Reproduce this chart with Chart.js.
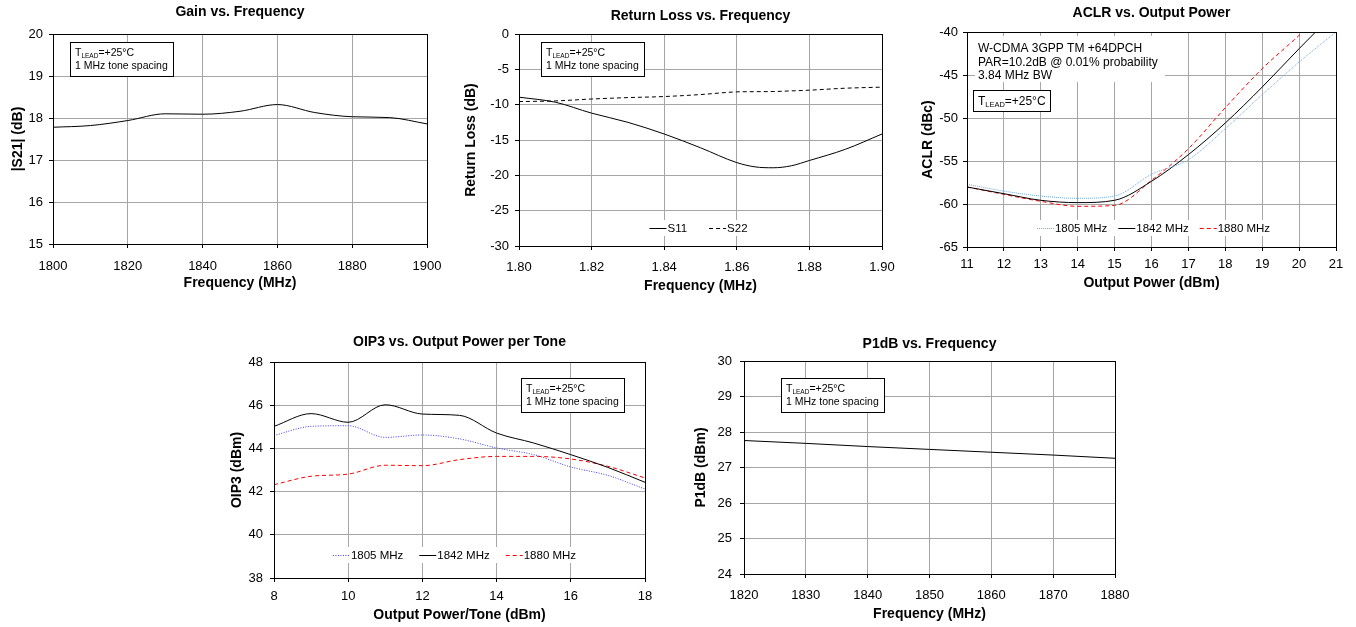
<!DOCTYPE html>
<html>
<head>
<meta charset="utf-8">
<script src="https://cdn.jsdelivr.net/npm/chart.js@4/dist/chart.umd.min.js"></script>
<style>
body { margin: 0; background: #fff; width: 1356px; height: 627px; position: relative; overflow: hidden; }
canvas { position: absolute; }
</style>
</head>
<body>
<canvas id="gain"></canvas>
<canvas id="rl"></canvas>
<canvas id="aclr"></canvas>
<canvas id="oip3"></canvas>
<canvas id="p1db"></canvas>
<script>
// gain vs frequency
const gainFreq = [1800, 1810, 1820, 1830, 1840, 1850, 1860, 1870, 1880, 1890, 1900];
const gainS21 = [17.78, 17.82, 17.94, 18.10, 18.09, 18.16, 18.32, 18.13, 18.03, 18.01, 17.86];

// return loss vs frequency
const rlFreq = [1.80, 1.81, 1.82, 1.83, 1.84, 1.85, 1.86, 1.865, 1.87, 1.875, 1.88, 1.89, 1.90];
const rlS11 = [-8.94, -9.65, -11.2, -12.5, -14.15, -16.1, -18.2, -18.8, -18.93, -18.65, -17.9, -16.3, -14.15];
const rlS22 = [-9.56, -9.47, -9.2, -9.0, -8.85, -8.57, -8.19, -8.16, -8.14, -8.05, -7.95, -7.67, -7.52];

// ACLR vs output power
const aclrPout = [11, 12, 13, 14, 15, 16, 17, 18, 19, 20, 21];
const aclr1805 = [-57.7, -58.5, -59.07, -59.34, -59.07, -56.55, -54.84, -51.24, -47.29, -43.49, -40.0];
const aclr1842 = [-58.02, -58.8, -59.57, -59.84, -59.57, -57.36, -54.26, -50.58, -46.4, -41.94, -37.6];
const aclr1880 = [-58.02, -58.88, -59.69, -60.27, -60.16, -57.25, -53.57, -48.8, -44.26, -40.39, -36.3];

// OIP3 vs output power per tone
const oip3Pout = [8, 9, 10, 11, 12, 13, 14, 15, 16, 17, 18];
const oip3_1805 = [44.6, 45.02, 45.05, 44.51, 44.62, 44.44, 44.02, 43.71, 43.14, 42.75, 42.12];
const oip3_1842 = [45.02, 45.61, 45.21, 46.02, 45.59, 45.53, 44.71, 44.25, 43.71, 43.12, 42.43];
const oip3_1880 = [42.32, 42.71, 42.81, 43.22, 43.2, 43.48, 43.63, 43.63, 43.51, 43.17, 42.63];

// P1dB vs frequency
const p1dbFreq = [1820, 1830, 1840, 1850, 1860, 1870, 1880];
const p1dbVal = [27.76, 27.68, 27.59, 27.51, 27.43, 27.35, 27.26];

const FONT = "'Liberation Sans', Arial, Helvetica, sans-serif";
Chart.defaults.font.family = FONT;
Chart.defaults.color = '#000';

const tLead = [['T'], ['LEAD', true], ['=+25°C']];
const spacing = [['1 MHz tone spacing']];

function pts(xs, ys) {
    return xs.map((x, i) => ({ x: x, y: ys[i] }));
}

function line(label, xs, ys, color, dash, width) {
    return {
        label: label,
        data: pts(xs, ys),
        showLine: true,
        borderColor: color,
        borderWidth: width || 1,
        borderDash: dash || [],
        pointRadius: 0,
        cubicInterpolationMode: 'monotone',
        fill: false
    };
}

// frame, notes and in-plot legend
const frame = {
    id: 'frame',
    afterDatasetsDraw(chart, args, opts) {
        const ctx = chart.ctx;
        const a = chart.chartArea;
        ctx.save();
        (opts.notes || []).forEach(n => {
            const x = a.left + n.x, y = a.top + n.y;
            ctx.fillStyle = '#fff';
            ctx.fillRect(x, y, n.w, n.h);
            if (n.border) {
                ctx.strokeStyle = '#000';
                ctx.lineWidth = 1;
                ctx.strokeRect(Math.round(x) + 0.5, Math.round(y) + 0.5, n.w, n.h);
            }
            ctx.fillStyle = '#000';
            ctx.textBaseline = 'alphabetic';
            ctx.textAlign = 'left';
            n.lines.forEach((ln, i) => {
                let cx = x + n.pad;
                const by = y + n.base + i * n.lh;
                ln.forEach(seg => {
                    const sz = seg[1] ? n.size * 0.62 : n.size;
                    ctx.font = sz + 'px ' + FONT;
                    ctx.fillText(seg[0], cx, by + (seg[1] ? n.size * 0.18 : 0));
                    cx += ctx.measureText(seg[0]).width;
                });
            });
        });

        const lg = opts.legend;
        if (lg) {
            ctx.font = lg.size + 'px ' + FONT;
            const items = chart.data.datasets.map(d => ({ d: d, w: ctx.measureText(d.label).width }));
            let total = 0;
            items.forEach((it, i) => { total += lg.sample + 1 + it.w + (i ? lg.gap : 0); });
            let x = (a.left + a.right) / 2 + lg.dx - total / 2;
            const y = a.top + lg.y;
            ctx.fillStyle = '#fff';
            ctx.fillRect(x - 3, y - 8, total + 6, 16);
            items.forEach((it, i) => {
                if (i) x += lg.gap;
                ctx.beginPath();
                ctx.strokeStyle = it.d.borderColor;
                ctx.lineWidth = it.d.borderWidth;
                ctx.setLineDash(it.d.borderDash);
                ctx.moveTo(x, Math.round(y) + 0.5);
                ctx.lineTo(x + lg.sample, Math.round(y) + 0.5);
                ctx.stroke();
                ctx.setLineDash([]);
                x += lg.sample + 1;
                ctx.fillStyle = '#000';
                ctx.textBaseline = 'middle';
                ctx.fillText(it.d.label, x, y + 1);
                x += it.w;
            });
        }

        ctx.strokeStyle = '#000';
        ctx.lineWidth = 1;
        ctx.strokeRect(Math.round(a.left) + 0.5, Math.round(a.top) + 0.5,
            Math.round(a.right - a.left), Math.round(a.bottom - a.top));
        ctx.restore();
    }
};

function makeChart(id, L, datasets) {
    const cv = document.getElementById(id);
    const b = L.box, p = L.plot;
    cv.width = b.w;
    cv.height = b.h;
    cv.style.left = b.x + 'px';
    cv.style.top = b.y + 'px';
    const tTop = L.titleY - b.y - 8.4;
    const gridOpts = { color: '#a6a6a6', lineWidth: 1, tickColor: '#000', tickLength: 4 };
    return new Chart(cv, {
        type: 'scatter',
        data: { datasets: datasets },
        options: {
            responsive: false,
            animation: false,
            layout: { padding: { left: 0, top: 0, bottom: 0, right: b.x + b.w - p.r } },
            plugins: {
                legend: { display: false },
                tooltip: { enabled: false },
                title: {
                    display: true,
                    text: L.title,
                    fullSize: false,
                    color: '#000',
                    font: { size: 14, weight: 'bold', lineHeight: 1.2 },
                    padding: { top: tTop, bottom: p.t - b.y - tTop - 16.8 }
                },
                frame: { notes: L.notes, legend: L.legend }
            },
            scales: {
                x: {
                    type: 'linear',
                    min: L.x.min, max: L.x.max,
                    ticks: {
                        stepSize: L.x.step, autoSkip: false, maxRotation: 0,
                        padding: L.xLabelY - p.b - 11.8,
                        font: { size: 13 },
                        callback: v => L.x.dec ? v.toFixed(L.x.dec) : v
                    },
                    grid: gridOpts,
                    border: { color: '#000' },
                    title: {
                        display: true, text: L.x.title, color: '#000',
                        font: { size: 14, weight: 'bold', lineHeight: 1.2 },
                        padding: { top: 0, bottom: b.y + b.h - L.xTitleY - 8.4 }
                    },
                    afterFit(s) { s.height = b.y + b.h - p.b; }
                },
                y: {
                    min: L.y.min, max: L.y.max,
                    ticks: {
                        stepSize: L.y.step, autoSkip: false,
                        padding: p.l - L.yLabelRight - 4,
                        font: { size: 13 }
                    },
                    grid: gridOpts,
                    border: { color: '#000' },
                    title: {
                        display: true, text: L.y.title, color: '#000',
                        font: { size: 14, weight: 'bold', lineHeight: 1.2 },
                        padding: { top: L.yTitleX - b.x - 8.4, bottom: 0 }
                    },
                    afterFit(s) { s.width = p.l - b.x; }
                }
            }
        },
        plugins: [frame]
    });
}

function smallNote(x, y) {
    return { x: x, y: y, w: 103, h: 34, border: true, pad: 5, size: 10.5, base: 13.8, lh: 13, lines: [tLead, spacing] };
}

makeChart('gain', {
    box: { x: 0, y: 0, w: 455, h: 300 },
    plot: { l: 53, t: 34, r: 427, b: 244 },
    title: 'Gain vs. Frequency', titleY: 12,
    yTitleX: 18, yLabelRight: 43, xLabelY: 266, xTitleY: 283,
    x: { min: 1800, max: 1900, step: 20, title: 'Frequency (MHz)' },
    y: { min: 15, max: 20, step: 1, title: '|S21| (dB)' },
    notes: [smallNote(17, 8)]
}, [line('S21', gainFreq, gainS21, '#000')]);

makeChart('rl', {
    box: { x: 455, y: 0, w: 450, h: 300 },
    plot: { l: 519, t: 34, r: 882, b: 246 },
    title: 'Return Loss vs. Frequency', titleY: 16,
    yTitleX: 471, yLabelRight: 509, xLabelY: 267, xTitleY: 286,
    x: { min: 1.8, max: 1.9, step: 0.02, dec: 2, title: 'Frequency (MHz)' },
    y: { min: -30, max: 0, step: 5, title: 'Return Loss (dB)' },
    notes: [smallNote(22, 8)],
    legend: { y: 194, dx: -2, sample: 17, gap: 22, size: 11.5 }
}, [
    line('S11', rlFreq, rlS11, '#000'),
    line('S22', rlFreq, rlS22, '#000', [4, 3])
]);

makeChart('aclr', {
    box: { x: 905, y: 0, w: 451, h: 300 },
    plot: { l: 967, t: 32, r: 1336, b: 247 },
    title: 'ACLR vs. Output Power', titleY: 13,
    yTitleX: 928, yLabelRight: 958, xLabelY: 264, xTitleY: 283,
    x: { min: 11, max: 21, step: 1, title: 'Output Power (dBm)' },
    y: { min: -65, max: -40, step: 5, title: 'ACLR (dBc)' },
    notes: [
        { x: 8, y: 4, w: 190, h: 46, border: false, pad: 3, size: 12, base: 16.3, lh: 13.5,
          lines: [[['W-CDMA 3GPP TM +64DPCH']], [['PAR=10.2dB @ 0.01% probability']], [['3.84 MHz BW']]] },
        { x: 6, y: 58, w: 77, h: 21, border: true, pad: 5, size: 12, base: 14.7, lh: 13, lines: [tLead] }
    ],
    legend: { y: 196, dx: 2, sample: 17, gap: 11, size: 11.5 }
}, [
    line('1805 MHz', aclrPout, aclr1805, '#6fa8dc', [1, 1]),
    line('1842 MHz', aclrPout, aclr1842, '#000'),
    line('1880 MHz', aclrPout, aclr1880, '#ff0000', [4, 3])
]);

makeChart('oip3', {
    box: { x: 225, y: 320, w: 440, h: 307 },
    plot: { l: 274, t: 362, r: 645, b: 578 },
    title: 'OIP3 vs. Output Power per Tone', titleY: 342,
    yTitleX: 237, yLabelRight: 263, xLabelY: 596, xTitleY: 615,
    x: { min: 8, max: 18, step: 2, title: 'Output Power/Tone (dBm)' },
    y: { min: 38, max: 48, step: 2, title: 'OIP3 (dBm)' },
    notes: [smallNote(247, 16)],
    legend: { y: 193, dx: -5, sample: 17, gap: 16, size: 11.5 }
}, [
    line('1805 MHz', oip3Pout, oip3_1805, '#3c3cff', [1, 1.5]),
    line('1842 MHz', oip3Pout, oip3_1842, '#000'),
    line('1880 MHz', oip3Pout, oip3_1880, '#ff0000', [4, 3])
]);

makeChart('p1db', {
    box: { x: 680, y: 320, w: 470, h: 307 },
    plot: { l: 744, t: 361, r: 1115, b: 574 },
    title: 'P1dB vs. Frequency', titleY: 344,
    yTitleX: 701, yLabelRight: 732, xLabelY: 595, xTitleY: 614,
    x: { min: 1820, max: 1880, step: 10, title: 'Frequency (MHz)' },
    y: { min: 24, max: 30, step: 1, title: 'P1dB (dBm)' },
    notes: [smallNote(37, 17)]
}, [line('P1dB', p1dbFreq, p1dbVal, '#000')]);
</script>
</body>
</html>
